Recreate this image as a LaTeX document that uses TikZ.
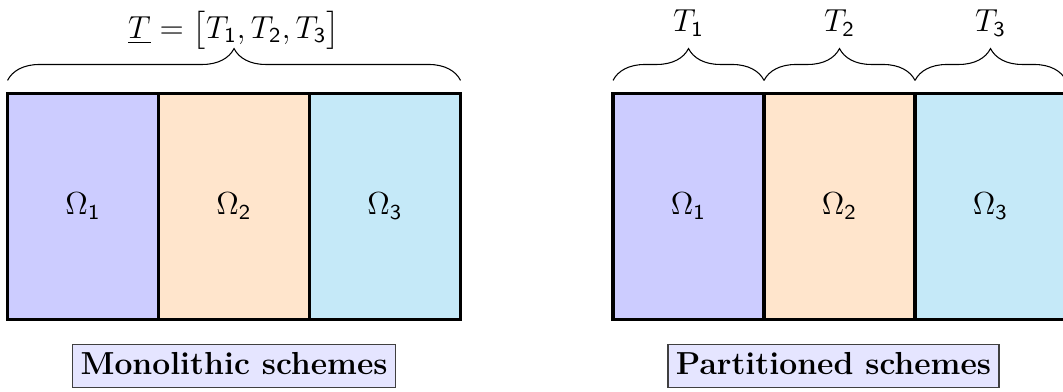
\documentclass[tikz,border=0pt]{standalone}
\usepackage{amsmath,amssymb}
\usepackage{xcolor}
\usepackage{tikz}
\usetikzlibrary{decorations.pathreplacing,positioning,calc}
\definecolor{omegaone}{RGB}{204,204,255}
\definecolor{omegatwo}{RGB}{255,229,204}
\definecolor{omegathree}{RGB}{197,233,248}
\tikzset{
  cell/.style={rectangle,draw=black,very thick,minimum width=2cm,minimum height=3cm,
               inner sep=0pt,outer sep=0pt,font=\large},
  scheme/.style={rectangle,draw=black!75,fill=blue!10,font=\large\bfseries,
                 inner sep=3pt,text depth=0.2em},
  brc/.style={decorate,decoration={brace,amplitude=12pt},thin},
  tlabel/.style={midway,above=13pt,font=\large},
}

\begin{document}
\begin{tikzpicture}[x=1cm,y=1cm]
  \useasboundingbox (0,0) rectangle (14.08,5.19);
  % --- monolithic ---
  \node[cell,fill=omegaone]   (m1) at ( 1.1 , 2.455) {$\Omega_{\mathsf{1}}$};
  \node[cell,fill=omegatwo]   (m2) at ( 3.1 , 2.455) {$\Omega_{\mathsf{2}}$};
  \node[cell,fill=omegathree] (m3) at ( 5.1 , 2.455) {$\Omega_{\mathsf{3}}$};
  \node[scheme] (mono) at (3.1,0.34) {Monolithic schemes};
  % --- partitioned ---
  \node[cell,fill=omegaone]   (p1) at ( 9.12, 2.455) {$\Omega_{\mathsf{1}}$};
  \node[cell,fill=omegatwo]   (p2) at (11.12, 2.455) {$\Omega_{\mathsf{2}}$};
  \node[cell,fill=omegathree] (p3) at (13.12, 2.455) {$\Omega_{\mathsf{3}}$};
  \node[scheme] (part) at (11.04,0.34) {Partitioned schemes};
  % --- braces ---
  \draw[brc] ([yshift=0.17cm]m1.north west) -- ([yshift=0.17cm]m3.north east)
    node[tlabel,above=10.5pt,inner sep=1pt] (tall) {$\underline{T}=\bigl[T_{\mathsf{1}},T_{\mathsf{2}},T_{\mathsf{3}}\bigr]$};
  \draw[brc] ([yshift=0.17cm]p1.north west) -- ([yshift=0.17cm]p1.north east)
    node[tlabel] (t1) {$T_{\mathsf{1}}$};
  \draw[brc] ([yshift=0.17cm]p2.north west) -- ([yshift=0.17cm]p2.north east)
    node[tlabel] (t2) {$T_{\mathsf{2}}$};
  \draw[brc] ([yshift=0.17cm]p3.north west) -- ([yshift=0.17cm]p3.north east)
    node[tlabel] (t3) {$T_{\mathsf{3}}$};
\end{tikzpicture}
\end{document}
